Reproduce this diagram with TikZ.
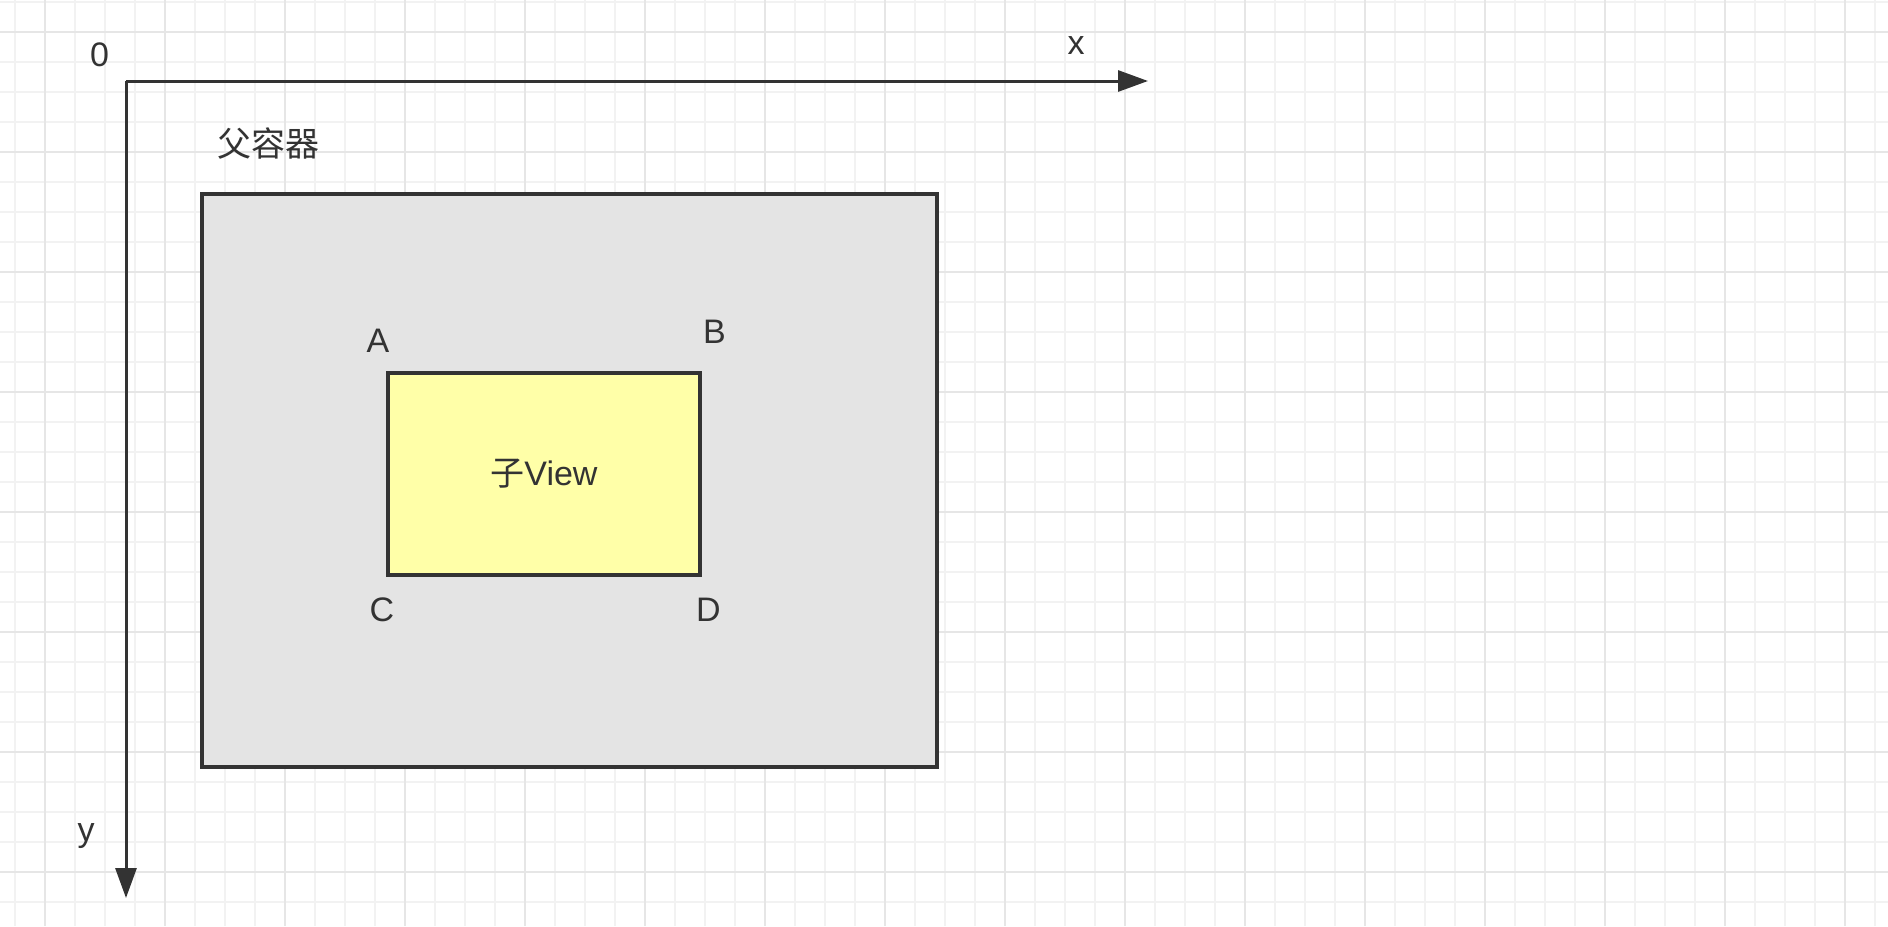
\documentclass[tikz,border=0pt]{standalone}
\usepackage{fontspec}
\setmainfont{Liberation Sans}
\newfontfamily\cjk{Noto Sans CJK SC}
\usetikzlibrary{arrows.meta}
\definecolor{gridminor}{HTML}{F2F2F2}
\definecolor{gridmajor}{HTML}{E6E6E6}
\definecolor{ink}{HTML}{333333}
\definecolor{parentfill}{HTML}{E4E4E4}
\definecolor{childfill}{HTML}{FFFFA8}
\tikzset{
  minorline/.style={draw=gridminor, line width=0.75pt},
  majorline/.style={draw=gridmajor, line width=1pt},
  axisline/.style={draw=ink, line width=1.5pt, -{Triangle[length=15pt,width=10.5pt]}},
  boxstyle/.style={draw=ink, line width=1.6pt, rectangle, inner sep=0pt, outer sep=0pt},
  label/.style={text=ink, inner sep=0pt, font=\fontsize{17pt}{20pt}\selectfont},
}
\begin{document}
\begin{tikzpicture}[x=0.5pt,y=-0.5pt]
\useasboundingbox (0,0) rectangle (1888,926);
\fill[white] (0,0) rectangle (1888,926);
% grid
\foreach \k in {0,...,62} {\draw[minorline] ({15+30*\k},0) -- ({15+30*\k},926);}
\foreach \k in {0,...,30} {\draw[minorline] (0,{2+30*\k}) -- (1888,{2+30*\k});}
\foreach \k in {0,...,15} {\draw[majorline] ({45+120*\k},0) -- ({45+120*\k},926);}
\foreach \k in {0,...,7} {\draw[majorline] (0,{32+120*\k}) -- (1888,{32+120*\k});}
% boxes
\node[boxstyle, fill=parentfill, minimum width=367.5pt, minimum height=286.5pt] (parent) at (569.5,480.5) {};
\node[boxstyle, fill=childfill, minimum width=156pt, minimum height=101pt, label] (child) at (544,474) {{\cjk 子}View};
% axes
\coordinate (origin) at (126,81);
\coordinate (xend) at (1148,81);
\coordinate (yend) at (126,898);
\draw[axisline] (origin) -- (xend);
\draw[axisline] (origin) -- (yend);
% labels
\node[label] (zero) at (99.5,55) {0};
\node[label] (xlab) at (1076,46) {x};
\node[label] (ylab) at (86,836) {y};
\node[label] (plab) at (268,144) {\cjk 父容器};
\node[label] (A) at (378,341) {A};
\node[label] (B) at (714.5,332) {B};
\node[label] (C) at (382,610) {C};
\node[label] (D) at (708.5,610) {D};
\end{tikzpicture}
\end{document}
